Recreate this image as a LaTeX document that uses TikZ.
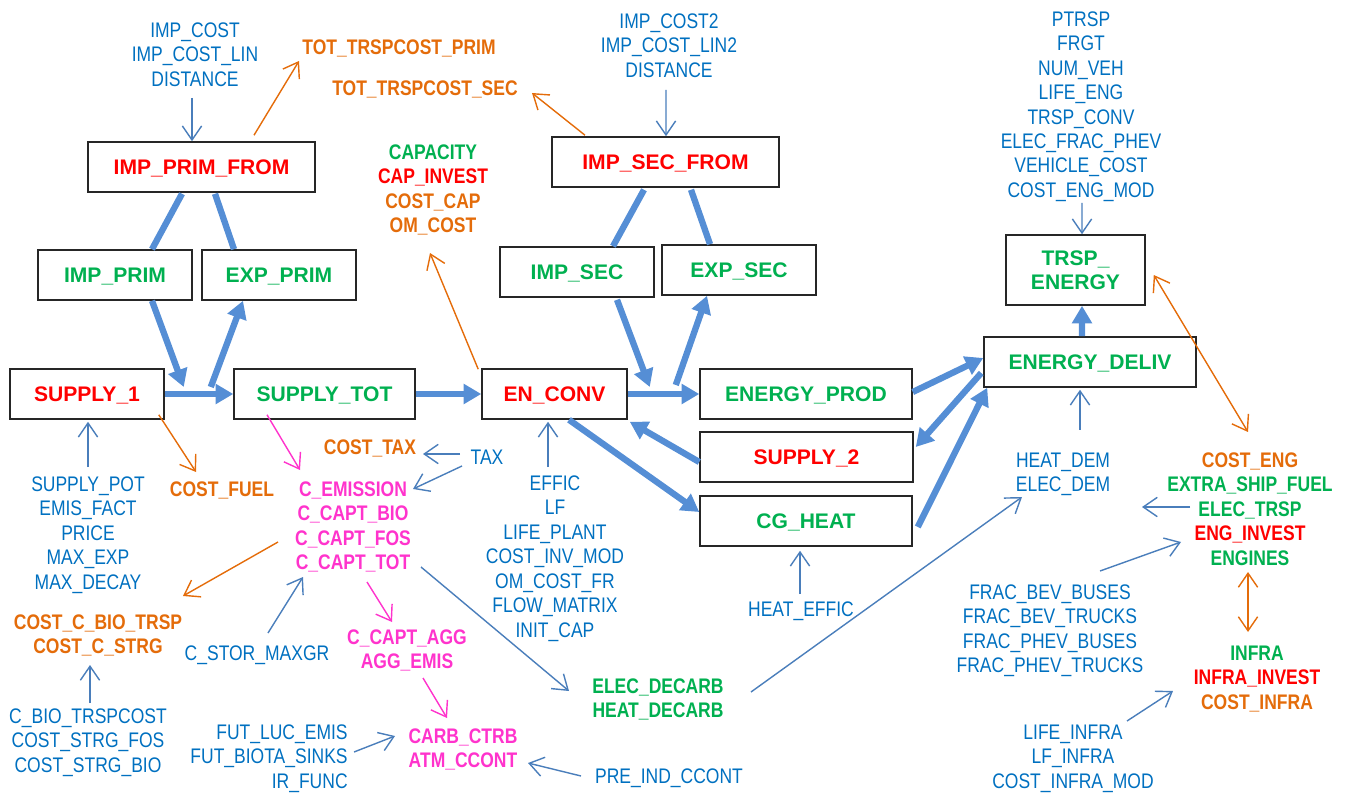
\documentclass[tikz,border=0pt]{standalone}
\usepackage{fontspec}
\setmainfont{Liberation Sans}
\newfontfamily\narrowsans[FakeStretch=0.83]{Liberation Sans}
\usetikzlibrary{arrows.meta,calc}

\definecolor{flowblue}{HTML}{558ED5}
\definecolor{thinblue}{HTML}{4A7EBB}
\definecolor{textblue}{HTML}{0070C0}
\definecolor{corange}{HTML}{E46C0A}
\definecolor{cgreen}{HTML}{00B050}
\definecolor{cred}{HTML}{FF0000}
\definecolor{cpink}{HTML}{FF33CC}

\newcommand\lblsize{\fontsize{12}{13.9}\selectfont}

\begin{document}
\begin{tikzpicture}[x=0.02cm, y=-0.02cm,
    boxbase/.style={draw=black!85, line width=0.9pt, inner sep=0pt,
        minimum height=1cm, font=\bfseries\lblsize},
    box/.style={boxbase, text height=8.6pt, text depth=0pt},
    lbl/.style={inner sep=0pt, align=center, anchor=north, font={\narrowsans\lblsize}},
    blbl/.style={lbl, font={\narrowsans\bfseries\lblsize}},
    flow/.style={draw=flowblue, line width=3.6pt, -{Triangle[length=10pt,width=11pt]}},
    link/.style={draw=flowblue, line width=3.6pt},
    inarr/.style={draw=thinblue, line width=0.8pt, -{Straight Barb[length=8pt,width=11pt]}},
    costarr/.style={draw=corange, line width=0.8pt, -{Straight Barb[length=8pt,width=11pt]}},
    emisarr/.style={draw=cpink, line width=0.8pt, -{Straight Barb[length=8pt,width=11pt]}}]
    \useasboundingbox (0,0) rectangle (1348,793);

    % Boxes
    \node[box, minimum width=4.54cm, text=cred] (impprimfrom) at (201.5,167) {IMP\_PRIM\_FROM};
    \node[box, minimum width=3.08cm, text=cgreen] (impprim) at (115,275) {IMP\_PRIM};
    \node[box, minimum width=3.08cm, text=cgreen] (expprim) at (279,275) {EXP\_PRIM};
    \node[box, minimum width=3.08cm, text=cred] (supply1) at (87,394) {SUPPLY\_1};
    \node[box, minimum width=3.62cm, text=cgreen] (supplytot) at (324.5,394) {SUPPLY\_TOT};
    \node[box, minimum width=2.9cm, text=cred] (enconv) at (554.5,394) {EN\_CONV};
    \node[box, minimum width=4.54cm, text=cred] (impsecfrom) at (665.5,162) {IMP\_SEC\_FROM};
    \node[box, minimum width=3.08cm, text=cgreen] (impsec) at (577,272) {IMP\_SEC};
    \node[box, minimum width=3.08cm, text=cgreen] (expsec) at (739,270) {EXP\_SEC};
    \node[box, minimum width=4.24cm, text=cgreen] (energyprod) at (806,394) {ENERGY\_PROD};
    \node[box, minimum width=4.26cm, text=cred] (supply2) at (806.5,457) {SUPPLY\_2};
    \node[box, minimum width=4.24cm, text=cgreen] (cgheat) at (806,521) {CG\_HEAT};
    \node[boxbase, align=center, minimum width=2.78cm, minimum height=1.4cm, text=cgreen]
        (trspenergy) at (1075.5,270) {TRSP\_\\ENERGY};
    \node[box, minimum width=4.24cm, text=cgreen] (energydeliv) at (1090,362) {ENERGY\_DELIV};

    % Labels
    \node[lbl, text=textblue] (impcost) at (195,22.4) {IMP\_COST\\IMP\_COST\_LIN\\DISTANCE};
    \node[blbl, text=corange] (trspprim) at (399,39.4) {TOT\_TRSPCOST\_PRIM};
    \node[blbl, text=corange] (trspsec) at (425,80.4) {TOT\_TRSPCOST\_SEC};
    \node[blbl] (capacity) at (433,144.4) {\textcolor{cgreen}{CAPACITY}\\
        \textcolor{cred}{CAP\_INVEST}\\\textcolor{corange}{COST\_CAP}\\\textcolor{corange}{OM\_COST}};
    \node[lbl, text=textblue] (impcost2) at (669,13.4) {IMP\_COST2\\IMP\_COST\_LIN2\\DISTANCE};
    \node[lbl, text=textblue] (ptrsp) at (1081,11.4) {PTRSP\\FRGT\\NUM\_VEH\\LIFE\_ENG\\
        TRSP\_CONV\\ELEC\_FRAC\_PHEV\\VEHICLE\_COST\\COST\_ENG\_MOD};
    \node[lbl, text=textblue] (supplypot) at (88,476.4) {SUPPLY\_POT\\EMIS\_FACT\\PRICE\\
        MAX\_EXP\\MAX\_DECAY};
    \node[blbl, text=corange] (costfuel) at (222,481.4) {COST\_FUEL};
    \node[blbl, text=cpink] (cemission) at (353,481.4) {C\_EMISSION\\C\_CAPT\_BIO\\
        C\_CAPT\_FOS\\C\_CAPT\_TOT};
    \node[blbl, text=corange] (costtax) at (370,439.4) {COST\_TAX};
    \node[lbl, text=textblue] (tax) at (487,449.4) {TAX};
    \node[lbl, text=textblue] (effic) at (555,475.4) {EFFIC\\LF\\LIFE\_PLANT\\COST\_INV\_MOD\\
        OM\_COST\_FR\\FLOW\_MATRIX\\INIT\_CAP};
    \node[blbl, text=corange] (costcbio) at (98,614.4) {COST\_C\_BIO\_TRSP\\COST\_C\_STRG};
    \node[lbl, text=textblue] (cbiotrsp) at (88,708.4) {C\_BIO\_TRSPCOST\\COST\_STRG\_FOS\\
        COST\_STRG\_BIO};
    \node[lbl, text=textblue] (cstor) at (257,645.4) {C\_STOR\_MAXGR};
    \node[blbl, text=cpink] (ccaptagg) at (407,629.4) {C\_CAPT\_AGG\\AGG\_EMIS};
    \node[blbl, text=cpink] (carbctrb) at (463,728.4) {CARB\_CTRB\\ATM\_CCONT};
    \node[lbl, text=textblue, align=right, anchor=north east] (futluc) at (348,724.4)
        {FUT\_LUC\_EMIS\\FUT\_BIOTA\_SINKS\\IR\_FUNC};
    \node[lbl, text=textblue] (preind) at (669,768.4) {PRE\_IND\_CCONT};
    \node[blbl, text=cgreen] (elecdecarb) at (658,678.4) {ELEC\_DECARB\\HEAT\_DECARB};
    \node[lbl, text=textblue] (heateffic) at (801,601.4) {HEAT\_EFFIC};
    \node[lbl, text=textblue] (heatdem) at (1063,452.4) {HEAT\_DEM\\ELEC\_DEM};
    \node[blbl] (costeng) at (1250,452.4) {\textcolor{corange}{COST\_ENG}\\
        \textcolor{cgreen}{EXTRA\_SHIP\_FUEL}\\\textcolor{cgreen}{ELEC\_TRSP}\\
        \textcolor{cred}{ENG\_INVEST}\\\textcolor{cgreen}{ENGINES}};
    \node[lbl, text=textblue] (fracbev) at (1050,584.4) {FRAC\_BEV\_BUSES\\FRAC\_BEV\_TRUCKS\\
        FRAC\_PHEV\_BUSES\\FRAC\_PHEV\_TRUCKS};
    \node[blbl] (infra) at (1257,645.4) {\textcolor{cgreen}{INFRA}\\
        \textcolor{cred}{INFRA\_INVEST}\\\textcolor{corange}{COST\_INFRA}};
    \node[lbl, text=textblue] (lifeinfra) at (1073,724.4) {LIFE\_INFRA\\LF\_INFRA\\
        COST\_INFRA\_MOD};

    % Energy flows
    \draw[link] ($(impprimfrom.south)+(-19.5,1)$) -- ($(impprim.north)+(37,0)$);
    \draw[link] ($(impprimfrom.south)+(13.5,1)$) -- ($(expprim.north)+(-45,0)$);
    \draw[flow] ($(impprim.south)+(37,0)$) -- ($(supply1.east)+(19,-7)$);
    \draw[flow] ($(supply1.east)+(46,-7)$) -- ($(expprim.south)+(-36,0)$);
    \draw[flow] (supply1.east) -- (supplytot.west);
    \draw[flow] (supplytot.east) -- (enconv.west);
    \draw[link] ($(impsecfrom.south)+(-21.5,2)$) -- ($(impsec.north)+(36,0)$);
    \draw[link] ($(impsecfrom.south)+(25.5,2)$) -- ($(expsec.north)+(-29,0)$);
    \draw[flow] ($(impsec.south)+(40,2)$) -- ($(enconv.east)+(22,-7)$);
    \draw[flow] ($(enconv.east)+(48,-9)$) -- ($(expsec.south)+(-32,0)$);
    \draw[flow] (enconv.east) -- (energyprod.west);
    \draw[flow] ($(supply2.west)+(0,5)$) -- ($(enconv.south east)+(2,2)$);
    \draw[flow] ($(enconv.south)+(14.5,0)$) -- ($(cgheat.west)+(0,-9)$);
    \draw[flow] ($(energyprod.east)+(0,-2)$) -- ($(energydeliv.west)+(0,-4)$);
    \draw[flow] ($(energydeliv.west)+(-2,11)$) -- ($(supply2.east)+(2,-10)$);
    \draw[flow] ($(cgheat.east)+(5,6)$) -- ($(energydeliv.south west)+(4,0)$);
    \draw[flow] ($(energydeliv.north)+(-8,0)$) -- ($(trspenergy.south)+(6.5,0)$);

    % Parameters and costs
    \draw[inarr] ($(impcost.north)+(-3,75.6)$) -- ($(impprimfrom.north)+(-9.5,0)$);
    \draw[costarr] ($(impprimfrom.north)+(52.5,-6)$) -- ($(trspprim.north)+(-100,21.6)$);
    \draw[costarr] ($(impsecfrom.north)+(-80.5,-1)$) -- ($(trspsec.north)+(107,12.6)$);
    \draw[costarr] ($(enconv.north west)+(-3,1)$) -- ($(capacity.north)+(-3,108.6)$);
    \draw[inarr] ($(impcost2.north)+(-3,76.6)$) -- ($(impsecfrom.north)+(0.5,0)$);
    \draw[inarr] ($(ptrsp.north)+(1,191.6)$) -- ($(trspenergy.north)+(6.5,0)$);
    \draw[inarr] ($(supplypot.north)+(0,-9.4)$) -- ($(supply1.south)+(1,2)$);
    \draw[costarr] ($(supply1.south east)+(-6,-5)$) -- ($(costfuel.north)+(-26,-9.4)$);
    \draw[emisarr] ($(supplytot.south)+(-57.5,-5)$) -- ($(cemission.north)+(-53,-11.4)$);
    \draw[inarr] ($(tax.north)+(-27,4.6)$) -- ($(costtax.north)+(53,14.6)$);
    \draw[inarr] ($(tax.north)+(-25,16.6)$) -- ($(cemission.north)+(60,7.6)$);
    \draw[inarr] ($(effic.north)+(-7,-8.4)$) -- ($(enconv.south)+(-6.5,2)$);
    \draw[costarr] ($(cemission.north)+(-75,60.6)$) -- ($(costcbio.north)+(85,-18.4)$);
    \draw[inarr] ($(cbiotrsp.north)+(2,-5.4)$) -- ($(costcbio.north)+(-8,50.6)$);
    \draw[inarr] ($(cstor.north)+(11,-12.4)$) -- ($(cemission.north)+(-50,95.6)$);
    \draw[emisarr] ($(cemission.north)+(14,100.6)$) -- ($(ccaptagg.north)+(-15,-7.4)$);
    \draw[emisarr] ($(ccaptagg.north)+(16,48.6)$) -- ($(carbctrb.north)+(-16,-10.4)$);
    \draw[inarr] ($(futluc.north east)+(6,27.6)$) -- ($(carbctrb.north)+(-68,7.6)$);
    \draw[inarr] ($(preind.north)+(-88,7.6)$) -- ($(carbctrb.north)+(65,34.6)$);
    \draw[inarr] ($(cemission.north)+(68,85.6)$) -- ($(elecdecarb.north)+(-89,12.6)$);
    \draw[inarr] ($(elecdecarb.north)+(93,13.6)$) -- ($(heatdem.north)+(-41,44.6)$);
    \draw[inarr] ($(heateffic.north)+(-1,-7.4)$) -- ($(cgheat.south)+(-6,4)$);
    \draw[inarr] ($(heatdem.north)+(17,-22.4)$) -- ($(energydeliv.south)+(-10,2)$);

    % Transport side
    \coordinate (engtip) at ($(heatdem.north)+(79,54.6)$);
    \draw[inarr] ($(costeng.north)+(-60,54.6)$) -- (engtip);
    \draw[costarr, {Straight Barb[length=8pt,width=11pt]}-{Straight Barb[length=8pt,width=11pt]}]
        ($(trspenergy.east)+(8,5)$) -- ($(costeng.north)+(-2,-20.4)$);
    \draw[inarr] ($(fracbev.north)+(50,-13.4)$) -- ($(costeng.north)+(-69,89.6)$);
    \draw[costarr, {Straight Barb[length=8pt,width=11pt]}-{Straight Barb[length=8pt,width=11pt]}]
        ($(costeng.north)+(-2,119.6)$) -- ($(infra.north)+(-9,-13.4)$);
    \draw[inarr] ($(lifeinfra.north)+(54,-3.4)$) -- ($(infra.north)+(-84,45.6)$);
\end{tikzpicture}
\end{document}
